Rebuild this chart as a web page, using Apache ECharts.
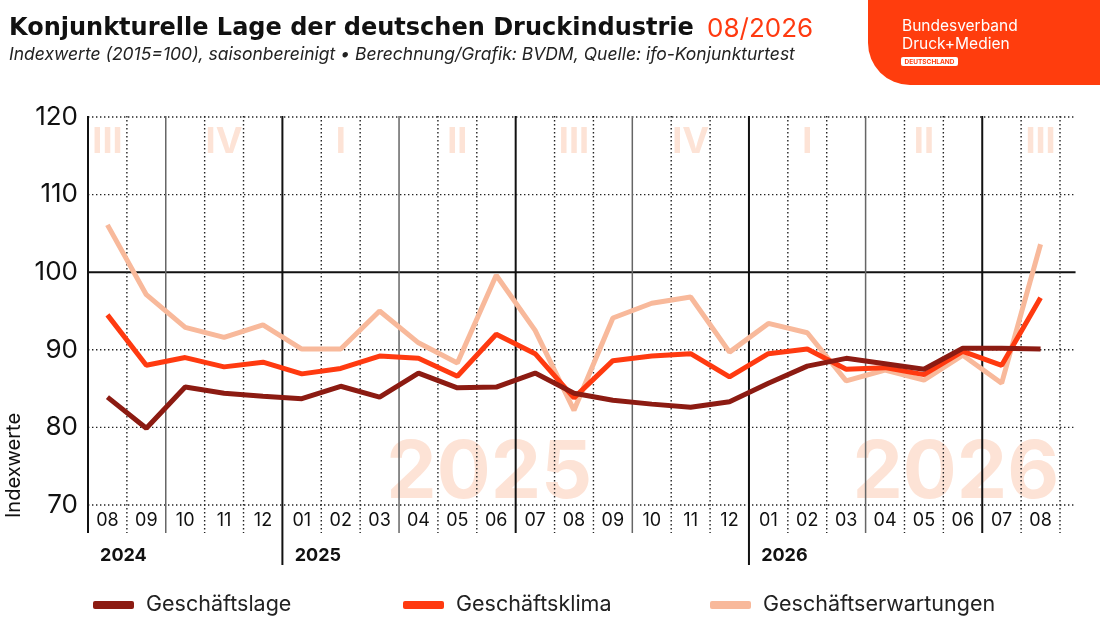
<!DOCTYPE html>
<html>
<head>
<meta charset="utf-8">
<script src="https://cdn.jsdelivr.net/npm/echarts@6/dist/echarts.min.js"></script>
<style>
  html, body { margin: 0; padding: 0; background: #fff; }
  #main { width: 1100px; height: 619px; }
</style>
</head>
<body>
<div id="main"></div>
<script>
var chartDom = document.getElementById('main');
var myChart = echarts.init(chartDom);
var option;

// months 08/2024 .. 08/2026
var months = [
  '2024-08', '2024-09', '2024-10', '2024-11', '2024-12',
  '2025-01', '2025-02', '2025-03', '2025-04', '2025-05', '2025-06',
  '2025-07', '2025-08', '2025-09', '2025-10', '2025-11', '2025-12',
  '2026-01', '2026-02', '2026-03', '2026-04', '2026-05', '2026-06',
  '2026-07', '2026-08'
];
var geschaeftslage = [83.9, 79.9, 85.2, 84.4, 84.0, 83.7, 85.3, 83.9, 87.0, 85.1, 85.2, 87.0, 84.4,
  83.5, 83.0, 82.6, 83.3, 85.7, 87.9, 88.9, 88.2, 87.5, 90.2, 90.2, 90.1];
var geschaeftsklima = [94.5, 88.0, 89.0, 87.8, 88.4, 86.9, 87.6, 89.2, 88.9, 86.6, 92.0, 89.5, 83.8,
  88.6, 89.2, 89.5, 86.5, 89.5, 90.1, 87.5, 87.7, 86.8, 89.8, 88.0, 96.7];
var geschaeftserwartungen = [106.1, 97.1, 92.9, 91.6, 93.2, 90.1, 90.1, 95.0, 90.9, 88.3, 99.6, 92.5, 82.2,
  94.1, 96.0, 96.8, 89.7, 93.4, 92.2, 86.0, 87.4, 86.1, 89.3, 85.7, 103.6];

var yTicks = [70, 80, 90, 100, 110, 120];
var quarterNames = ['III', 'IV', 'I', 'II', 'III', 'IV', 'I', 'II', 'III'];
var quarterAt = [0, 3, 6, 9, 12, 15, 18, 21, 24];
var yearWatermarks = ['2025', '2026'];
var yearWatermarkAt = [10, 22];

var cDark = '#8c1b12';
var cRed = '#ff3a10';
var cPeach = '#f8b99b';
var cWater = '#fde3d6';
var font = 'Inter';

// kinds: 0 month dotted, 1 quarter, 2 half-year / axis, 3 year
var bounds = [];
months.forEach(function (m, i) {
  var mm = m.slice(5);
  var kind = 0;
  if (i === 0) kind = 2;
  else if (mm === '01') kind = 3;
  else if (mm === '07') kind = 2;
  else if (mm === '04' || mm === '10') kind = 1;
  bounds.push([i, 120, kind, 0]);
});
bounds.push([months.length - 1, 120, 0, 1]);

var hLines = yTicks.map(function (v) { return [0, v, v === 100 ? 1 : 0]; });

var quarterData = quarterNames.map(function (q, i) {
  return { value: [quarterAt[i], 116.8], name: q };
});
var waterData = yearWatermarks.map(function (y, i) {
  return { value: [yearWatermarkAt[i], 74.0], name: y };
});

function lineStyleFor(kind) {
  if (kind === 0) return { stroke: '#222', lineWidth: 1.4, lineDash: [1.4, 2.6] };
  if (kind === 1) return { stroke: '#666', lineWidth: 1.5 };
  return { stroke: '#111', lineWidth: 2 };
}

option = {
  backgroundColor: '#fff',
  textStyle: { fontFamily: font },
  title: {
    left: 4,
    top: 11,
    text: '{a|Konjunkturelle Lage der deutschen Druckindustrie} {b|08/2026}',
    subtext: 'Indexwerte (2015=100), saisonbereinigt • Berechnung/Grafik: BVDM, Quelle: ifo-Konjunkturtest',
    itemGap: 4,
    textStyle: {
      rich: {
        a: { fontFamily: 'DejaVu Sans', fontSize: 24, fontWeight: 'bold', color: '#111' },
        b: { fontFamily: font, fontSize: 26, fontWeight: 'normal', color: cRed, padding: [0, 0, 0, 9] }
      }
    },
    subtextStyle: { fontFamily: font, fontSize: 17.5, fontStyle: 'italic', color: '#222' }
  },
  legend: [
    { data: ['Geschäftslage'], left: 88, top: 589 },
    { data: ['Geschäftsklima'], left: 398, top: 589 },
    { data: ['Geschäftserwartungen'], left: 705, top: 589 }
  ].map(function (l) {
    l.icon = 'roundRect';
    l.itemWidth = 41;
    l.itemHeight = 8;
    l.textStyle = { fontFamily: font, fontSize: 21.5, color: '#222', padding: [0, 0, 0, 7] };
    return l;
  }),
  grid: { left: 88, right: 40, top: 117, bottom: 114 },
  xAxis: [
    {
      type: 'category',
      data: months,
      boundaryGap: true,
      axisLine: { show: false },
      axisTick: { show: false },
      splitLine: { show: false },
      axisLabel: {
        interval: 0,
        margin: 7,
        fontFamily: font,
        fontSize: 18,
        color: '#111',
        formatter: function (v) { return v.slice(5); }
      }
    },
    {
      type: 'category',
      data: months,
      position: 'bottom',
      boundaryGap: true,
      axisLine: { show: false },
      axisTick: { show: false },
      splitLine: { show: false },
      axisLabel: {
        interval: 0,
        margin: 42,
        fontFamily: font,
        fontSize: 18,
        fontWeight: 'bold',
        color: '#111',
        padding: [0, 0, 0, 32],
        formatter: function (v, i) {
          return (i === 0 || v.slice(5) === '01') ? v.slice(0, 4) : '';
        }
      }
    }
  ],
  yAxis: {
    type: 'value',
    min: 70,
    max: 120,
    interval: 10,
    axisLine: { show: false },
    axisTick: { show: false },
    splitLine: { show: false },
    axisLabel: { fontFamily: font, fontSize: 26, color: '#111', margin: 10 }
  },
  series: [
    {
      type: 'scatter',
      silent: true,
      z: 0,
      symbolSize: 1,
      itemStyle: { color: 'rgba(0,0,0,0)' },
      data: waterData,
      label: {
        show: true,
        position: 'inside',
        offset: [-7, 0],
        formatter: function (p) { return p.name; },
        fontFamily: font,
        fontSize: 80,
        fontWeight: 'bold',
        color: cWater,
        opacity: 1
      }
    },
    {
      type: 'scatter',
      silent: true,
      z: 0,
      symbolSize: 1,
      itemStyle: { color: 'rgba(0,0,0,0)' },
      data: quarterData,
      label: {
        show: true,
        position: 'inside',
        formatter: function (p) { return p.name; },
        fontFamily: font,
        fontSize: 36,
        fontWeight: 'bold',
        color: cWater,
        opacity: 1
      }
    },
    {
      type: 'custom',
      silent: true,
      clip: false,
      z: 1,
      data: hLines,
      encode: { x: 0, y: 1 },
      renderItem: function (params, api) {
        var v = api.value(1);
        var band = api.size([1, 0])[0];
        var p0 = api.coord([0, v]);
        var p1 = api.coord([months.length - 1, v]);
        var solid = api.value(2) === 1;
        return {
          type: 'line',
          shape: { x1: p0[0] - band / 2, y1: p0[1], x2: p1[0] + band * 0.9, y2: p1[1] },
          style: solid ? { stroke: '#111', lineWidth: 2 } : { stroke: '#222', lineWidth: 1.4, lineDash: [1.4, 2.6] }
        };
      }
    },
    {
      type: 'custom',
      silent: true,
      clip: false,
      z: 1,
      data: bounds,
      encode: { x: 0, y: 1 },
      renderItem: function (params, api) {
        var c = api.value(0);
        var kind = api.value(2);
        var side = api.value(3);
        var band = api.size([1, 0])[0];
        var top = api.coord([c, 120]);
        var bot = api.coord([c, 70]);
        var x = top[0] + (side ? band / 2 : -band / 2);
        var ext = kind === 3 ? 60 : 28;
        return {
          type: 'line',
          shape: { x1: x, y1: top[1] - 1, x2: x, y2: bot[1] + ext },
          style: lineStyleFor(kind)
        };
      }
    },
    {
      name: 'Geschäftserwartungen',
      type: 'line',
      z: 3,
      data: geschaeftserwartungen,
      symbol: 'none',
      color: cPeach,
      lineStyle: { width: 5, color: cPeach }
    },
    {
      name: 'Geschäftsklima',
      type: 'line',
      z: 3,
      data: geschaeftsklima,
      symbol: 'none',
      color: cRed,
      lineStyle: { width: 5, color: cRed }
    },
    {
      name: 'Geschäftslage',
      type: 'line',
      z: 3,
      data: geschaeftslage,
      symbol: 'none',
      color: cDark,
      lineStyle: { width: 5, color: cDark }
    }
  ],
  graphic: [
    {
      type: 'rect',
      silent: true,
      shape: { x: 868, y: -60, width: 300, height: 145, r: [0, 0, 0, 42] },
      style: { fill: '#ff3d0d' }
    },
    {
      type: 'text',
      x: 902,
      y: 18,
      style: { text: 'Bundesverband', fill: '#fff', font: '15.5px Inter' }
    },
    {
      type: 'text',
      x: 902,
      y: 36,
      style: { text: 'Druck+Medien', fill: '#fff', font: '15.5px Inter' }
    },
    {
      type: 'rect',
      shape: { x: 901, y: 57, width: 57, height: 9, r: 2 },
      style: { fill: '#fff' }
    },
    {
      type: 'text',
      x: 929.5,
      y: 61.7,
      style: { text: 'DEUTSCHLAND', fill: '#ff3d0d', font: 'bold 6.5px Inter', textAlign: 'center', textVerticalAlign: 'middle' }
    },
    {
      type: 'text',
      x: 14,
      y: 518,
      rotation: Math.PI / 2,
      style: { text: 'Indexwerte', fill: '#111', font: '20px Inter', textAlign: 'left', textVerticalAlign: 'middle' }
    }
  ]
};

option && myChart.setOption(option);
</script>
</body>
</html>
